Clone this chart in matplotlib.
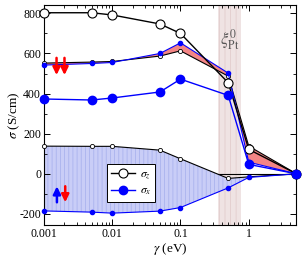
import matplotlib
matplotlib.use("Agg")
import matplotlib.pyplot as plt
import numpy as np
from matplotlib.ticker import MultipleLocator, LogLocator, NullFormatter

plt.rcParams['font.family'] = ['Liberation Serif', 'DejaVu Serif']
plt.rcParams['mathtext.fontset'] = 'stix'
plt.rcParams['hatch.linewidth'] = 0.6
plt.rcParams['axes.unicode_minus'] = False

gamma = [0.001, 0.005, 0.01, 0.05, 0.1, 0.5, 1.0, 5.0]
sigma_z = [803, 803, 792, 747, 700, 454, 122, 0]
sigma_x = [373, 368, 378, 408, 472, 391, 47, 0]
down_z = [552, 557, 560, 587, 613, 487, 138, 0]
down_x = [542, 550, 555, 600, 653, 502, 58, 0]
up_z = [138, 137, 137, 118, 75, -23, -15, 0]
up_x = [-185, -191, -196, -186, -168, -70, -18, 0]
xi_band = (0.35, 0.76)
xticks = [0.001, 0.01, 0.1, 1]
xticklabels = ['0.001', '0.01', '0.1', '1']
yticks = [-200, 0, 200, 400, 600, 800]

fig = plt.figure(figsize=(3.03, 2.56), dpi=100)
ax = fig.add_axes([0.145, 0.122, 0.8335, 0.858])
ax.set_xscale('log')
ax.set_xlim(0.001, 5)
ax.set_ylim(-254, 841)

# shaded xi band
ax.axvspan(*xi_band, facecolor='#efe3e3', edgecolor='#e2cdcd', hatch='|||', lw=0, zorder=0)

# zero line
ax.axhline(0, color='black', lw=0.8, zorder=1)

# spin-up fill
ax.fill_between(gamma, up_x, up_z, facecolor='#c9cdf7', edgecolor='#aab3ee', hatch='||||', lw=0, zorder=1)
ax.plot(gamma, up_z, '-', color='black', lw=0.8, marker='o', ms=3, mfc='white', mec='black', mew=0.6, zorder=3, clip_on=False)
ax.plot(gamma, up_x, '-', color='blue', lw=0.8, marker='o', ms=3, mfc='blue', mec='blue', zorder=3, clip_on=False)

# spin-down fill
ax.fill_between(gamma, down_x, down_z, facecolor='#f38585', lw=0, zorder=1)
ax.plot(gamma, down_z, '-', color='black', lw=0.8, marker='o', ms=3, mfc='white', mec='black', mew=0.6, zorder=3, clip_on=False)
ax.plot(gamma, down_x, '-', color='blue', lw=0.8, marker='o', ms=3, mfc='blue', mec='blue', zorder=3, clip_on=False)

# totals
l1, = ax.plot(gamma, sigma_z, '-', color='black', lw=1, marker='o', ms=6.5, mfc='white', mec='black', mew=0.8, zorder=4, clip_on=False, label=r'$\sigma_z$')
l2, = ax.plot(gamma, sigma_x, '-', color='blue', lw=1, marker='o', ms=6, mfc='blue', mec='blue', zorder=4, clip_on=False, label=r'$\sigma_x$')

# arrows
ap_r = dict(arrowstyle='-|>,head_width=0.22,head_length=0.45', color='red', lw=1.8, shrinkA=0, shrinkB=0)
ap_b = dict(arrowstyle='-|>,head_width=0.22,head_length=0.45', color='blue', lw=1.8, shrinkA=0, shrinkB=0)
ax.annotate('', xy=(0.00153, 492), xytext=(0.00153, 578), arrowprops=ap_r, zorder=5)
ax.annotate('', xy=(0.002, 492), xytext=(0.002, 578), arrowprops=ap_r, zorder=5)
ax.annotate('', xy=(0.00155, -62), xytext=(0.00155, -142), arrowprops=ap_b, zorder=5)
ax.annotate('', xy=(0.00205, -142), xytext=(0.00205, -62), arrowprops=ap_r, zorder=5)

ax.text(0.53, 667, r'$\xi^{0}_{\rm Pt}$', ha='center', va='center', fontsize=12, color='#555555', zorder=5)

# ticks
ax.set_xticks(xticks)
ax.set_xticklabels(xticklabels)
ax.xaxis.set_minor_locator(LogLocator(base=10, subs=np.arange(2, 10), numticks=20))
ax.xaxis.set_minor_formatter(NullFormatter())
ax.set_yticks(yticks)
ax.yaxis.set_minor_locator(MultipleLocator(100))
ax.tick_params(which='both', direction='in', top=True, right=True, labelsize=8.5, pad=2)
ax.tick_params(which='major', length=4, width=0.7)
ax.tick_params(which='minor', length=2, width=0.6)
for s in ax.spines.values():
    s.set_linewidth(0.8)

ax.set_xlabel(r'$\gamma$ (eV)', fontsize=9.5, labelpad=1)
ax.set_ylabel(r'$\sigma$ (S/cm)', fontsize=9.5)
ax.yaxis.set_label_coords(-0.085, 0.5)

leg = ax.legend(handles=[l1, l2], loc='upper left', bbox_to_anchor=(0.25, 0.276), fontsize=8.5,
                frameon=True, fancybox=False, edgecolor='black', framealpha=1,
                handlelength=2.0, handletextpad=0.4, borderpad=0.35, labelspacing=0.3, borderaxespad=0)
leg.get_frame().set_linewidth(0.7)
leg.set_zorder(6)

fig.savefig('out.png', dpi=100)
